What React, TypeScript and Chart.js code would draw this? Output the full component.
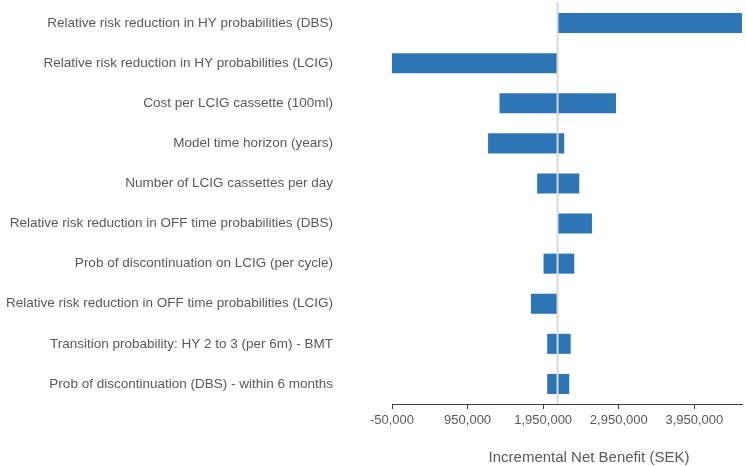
import React, { useEffect, useRef } from "react";
import { Chart, registerables } from "chart.js";

Chart.register(...registerables);

const CATEGORIES = [
  "Relative risk reduction in HY probabilities (DBS)",
  "Relative risk reduction in HY probabilities (LCIG)",
  "Cost per LCIG cassette (100ml)",
  "Model time horizon (years)",
  "Number of LCIG cassettes per day",
  "Relative risk reduction in OFF time probabilities (DBS)",
  "Prob of discontinuation on LCIG (per cycle)",
  "Relative risk reduction in OFF time probabilities (LCIG)",
  "Transition probability: HY 2 to 3 (per 6m) - BMT",
  "Prob of discontinuation (DBS) - within 6 months",
];

const LOW_VALUES = [2140000, -50000, 1372000, 1221000, 1870000, 2140000, 1955000, 1787000, 2003000, 2003000];
const HIGH_VALUES = [4580000, 2140000, 2913000, 2228000, 2427000, 2595000, 2361000, 2140000, 2313000, 2295000];

const BASE_VALUE = 2140000;
const X_TICKS = [-50000, 950000, 1950000, 2950000, 3950000];
const X_MIN = -50000;
const X_MAX = 4580000;
const AXIS_TITLE = "Incremental Net Benefit (SEK)";

const FONT = "'Liberation Sans', Arial, sans-serif";
const TEXT_COLOR = "#595959";

export default function App() {
  const canvasRef = useRef<HTMLCanvasElement | null>(null);

  useEffect(() => {
    if (!canvasRef.current) return;

    const baseLinePlugin = {
      id: "baseLine",
      afterDatasetsDraw(chart: any) {
        const { ctx, chartArea, scales } = chart;
        const x = scales.x.getPixelForValue(BASE_VALUE);
        ctx.save();
        ctx.strokeStyle = "#D9D9D9";
        ctx.lineWidth = 2;
        ctx.beginPath();
        ctx.moveTo(x, chartArea.top - 1);
        ctx.lineTo(x, chartArea.bottom);
        ctx.stroke();
        ctx.restore();
      },
    };

    const titlePlugin = {
      id: "axisTitle",
      afterDraw(chart: any) {
        const { ctx, chartArea } = chart;
        ctx.save();
        ctx.font = `15px ${FONT}`;
        ctx.fillStyle = TEXT_COLOR;
        ctx.textAlign = "center";
        ctx.textBaseline = "middle";
        ctx.fillText(AXIS_TITLE, (chartArea.left + chartArea.right) / 2 + 22, chartArea.bottom + 54);
        ctx.restore();
      },
    };

    const chart = new Chart(canvasRef.current, {
      type: "bar",
      data: {
        labels: CATEGORIES,
        datasets: [
          {
            data: CATEGORIES.map((_, i) => [LOW_VALUES[i], HIGH_VALUES[i]]) as any,
            backgroundColor: "#2E75B6",
            borderWidth: 0,
            barPercentage: 0.5,
            categoryPercentage: 1,
          },
        ],
      },
      options: {
        indexAxis: "y",
        animation: false,
        responsive: true,
        maintainAspectRatio: false,
        layout: { padding: { top: 3, right: 4, left: 0, bottom: 0 } },
        plugins: {
          legend: { display: false },
          tooltip: { enabled: false },
        },
        scales: {
          x: {
            type: "linear",
            min: X_MIN,
            max: X_MAX,
            afterBuildTicks: (scale: any) => {
              scale.ticks = X_TICKS.map((v) => ({ value: v }));
            },
            afterFit: (scale: any) => {
              scale.height = 62;
            },
            grid: {
              drawOnChartArea: false,
              drawTicks: true,
              tickLength: 5,
              color: "#404040",
            },
            border: { color: "#404040", width: 1 },
            ticks: {
              autoSkip: false,
              maxRotation: 0,
              padding: 4,
              color: TEXT_COLOR,
              font: { family: FONT, size: 13 },
              callback: (v: any) => Number(v).toLocaleString("en-US"),
            },
          },
          y: {
            type: "category",
            afterFit: (scale: any) => {
              scale.width = 392;
              scale.paddingTop = 0;
              scale.paddingBottom = 0;
            },
            grid: { display: false, drawTicks: false },
            border: { display: false },
            ticks: {
              padding: 59,
              color: TEXT_COLOR,
              font: { family: FONT, size: 13.5 },
            },
          },
        },
      },
      plugins: [baseLinePlugin, titlePlugin],
    });

    return () => chart.destroy();
  }, []);

  return (
    <div style={{ position: "absolute", left: 0, top: 0, width: 746, height: 466, background: "#fff" }}>
      <canvas ref={canvasRef} />
    </div>
  );
}
